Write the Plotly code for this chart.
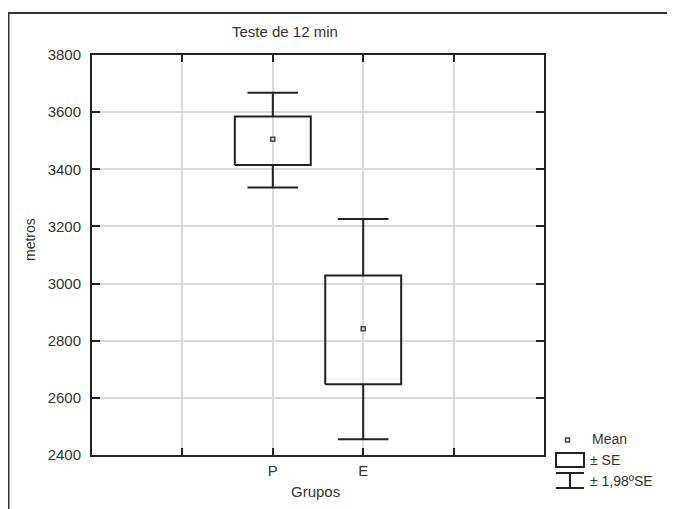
import plotly.graph_objects as go

# ---- data ----
groups = ["P", "E"]
group_pos = [2, 3]
means = [3505, 2842]
se_low = [3415, 2648]
se_high = [3585, 3028]
ci_low = [3336, 2455]
ci_high = [3668, 3226]

y_ticks = [2400, 2600, 2800, 3000, 3200, 3400, 3600, 3800]
x_ticks = [1, 2, 3, 4]
x_ticktext = ["", "P", "E", ""]

FONT = "Liberation Sans, Arial, sans-serif"
INK = "#222222"
TXT = "#333333"
BOX_HALF = 0.42
CAP_HALF = 0.28

fig = go.Figure()

for g, p, m, sl, sh, cl, ch in zip(groups, group_pos, means, se_low, se_high, ci_low, ci_high):
    # box +- SE
    fig.add_trace(go.Scatter(
        x=[p - BOX_HALF, p + BOX_HALF, p + BOX_HALF, p - BOX_HALF, p - BOX_HALF],
        y=[sl, sl, sh, sh, sl],
        mode="lines", line=dict(color=INK, width=2), showlegend=False, hoverinfo="skip"))
    # whiskers +- 1.98 SE
    fig.add_trace(go.Scatter(
        x=[p, p, None, p, p, None, p - CAP_HALF, p + CAP_HALF, None, p - CAP_HALF, p + CAP_HALF],
        y=[sh, ch, None, sl, cl, None, ch, ch, None, cl, cl],
        mode="lines", line=dict(color=INK, width=2), showlegend=False, hoverinfo="skip"))
    # mean
    fig.add_trace(go.Scatter(
        x=[p], y=[m], mode="markers",
        marker=dict(symbol="square-open", size=4, color="#444444", line=dict(width=1.5)),
        showlegend=False, name=g))

OFF = 8  # page body margin
W, H = 675 - OFF, 509 - OFF
L, T = 92 - OFF, 55 - OFF
PW, PH = 452, 400
R = W - L - PW
B = H - T - PH


def px(xp):
    return (xp - OFF - L) / PW


def py(yp):
    return (T + PH - (yp - OFF)) / PH


shapes = []
# outer frame (cropped at right / bottom)
shapes.append(dict(type="rect", xref="paper", yref="paper",
                   x0=px(8.5), x1=px(720), y0=py(540), y1=py(13),
                   line=dict(color="#333333", width=2)))
# legend: mean marker
shapes.append(dict(type="rect", xref="paper", yref="paper",
                   x0=px(565.5), x1=px(569.5), y0=py(442), y1=py(438),
                   line=dict(color="#444444", width=1.5)))
# legend: SE box
shapes.append(dict(type="rect", xref="paper", yref="paper",
                   x0=px(556), x1=px(584), y0=py(467), y1=py(453),
                   line=dict(color=INK, width=2)))
# legend: whisker icon
for (xa, ya, xb, yb) in [(556, 473, 584, 473), (556, 488, 584, 488), (570, 473, 570, 488)]:
    shapes.append(dict(type="line", xref="paper", yref="paper",
                       x0=px(xa), y0=py(ya), x1=px(xb), y1=py(yb),
                       line=dict(color=INK, width=2)))


def ann(text, x, y, size, xanchor="center", angle=0):
    return dict(text=text, xref="paper", yref="paper", x=px(x), y=py(y),
                xanchor=xanchor, yanchor="middle", textangle=angle,
                showarrow=False, font=dict(size=size, color=TXT, family=FONT))


annotations = [
    ann("Teste de 12 min", 285, 32, 15),
    ann("metros", 30, 240, 14, angle=-90),
    ann("Grupos", 315, 491, 15),
    ann("Mean", 590, 439, 14, xanchor="left"),
    ann("± SE", 588, 460, 14, xanchor="left"),
    ann("± 1,98ºSE", 588, 481, 14, xanchor="left"),
]

fig.update_layout(
    width=W, height=H,
    margin=dict(l=L, r=R, t=T, b=B, pad=0),
    paper_bgcolor="white", plot_bgcolor="white",
    font=dict(family=FONT, size=15, color=TXT),
    shapes=shapes, annotations=annotations,
    showlegend=False,
)
fig.update_xaxes(
    range=[0, 5], tickvals=x_ticks, ticktext=x_ticktext,
    showgrid=True, gridcolor="#d9d9d9", gridwidth=1.5,
    showline=True, linecolor=INK, linewidth=2, mirror="allticks",
    ticks="inside", ticklen=7, tickwidth=2, tickcolor=INK,
    zeroline=False, ticklabelstandoff=1,
    tickfont=dict(size=15, color=TXT, family=FONT),
)
fig.update_yaxes(
    range=[2400, 3800], tickvals=y_ticks,
    showgrid=True, gridcolor="#d9d9d9", gridwidth=1.5,
    showline=True, linecolor=INK, linewidth=2, mirror="allticks",
    ticks="inside", ticklen=8, tickwidth=2, tickcolor=INK,
    zeroline=False, ticklabelstandoff=6,
    tickfont=dict(size=15, color=TXT, family=FONT),
)

fig.write_html("out.html")
